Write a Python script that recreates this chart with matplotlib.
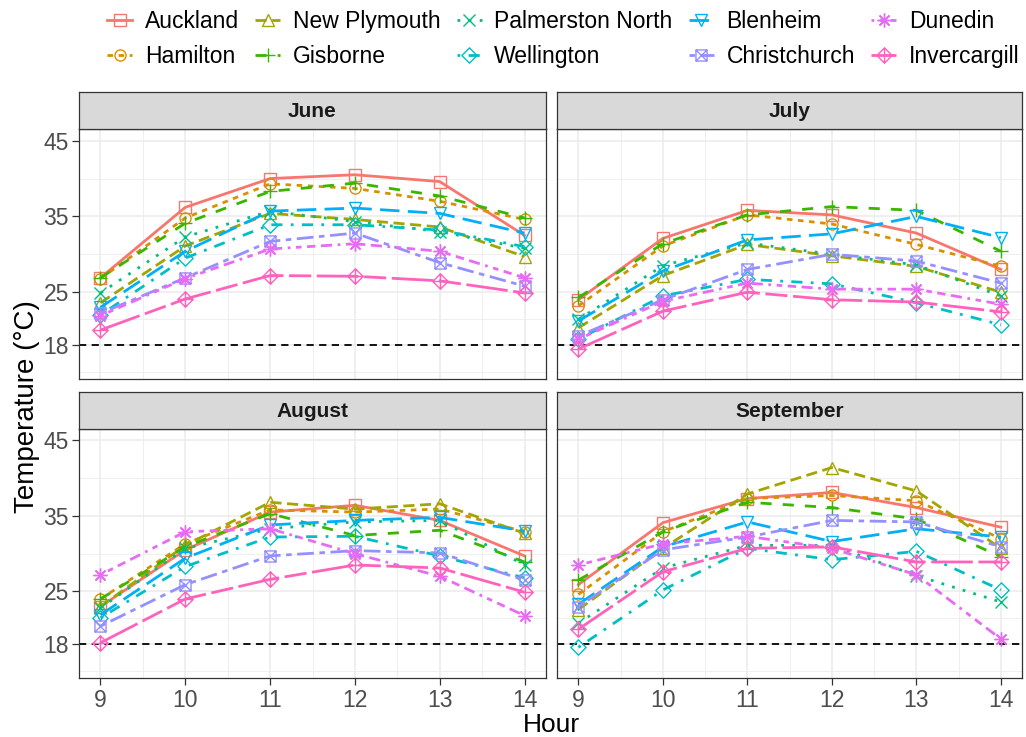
import matplotlib
matplotlib.use("Agg")
import matplotlib.pyplot as plt
from matplotlib.path import Path
from matplotlib.lines import Line2D

plt.rcParams['font.family'] = ['Liberation Sans', 'DejaVu Sans']

hours = [9, 10, 11, 12, 13, 14]
months = ["June", "July", "August", "September"]
cities = ["Auckland", "Hamilton", "New Plymouth", "Gisborne", "Palmerston North",
          "Wellington", "Blenheim", "Christchurch", "Dunedin", "Invercargill"]

# rows follow the order of `cities`, columns follow `hours`
june = [
    [26.9, 36.2, 40.0, 40.5, 39.6, 32.5],
    [26.8, 34.8, 39.3, 38.7, 37.0, 34.6],
    [23.6, 31.1, 35.4, 34.6, 33.6, 29.7],
    [26.9, 34.1, 38.3, 39.4, 37.7, 34.8],
    [24.9, 32.3, 35.7, 34.3, 33.0, 30.8],
    [22.0, 29.5, 33.9, 33.9, 33.2, 31.0],
    [23.0, 30.4, 35.7, 36.1, 35.4, 32.8],
    [22.2, 26.9, 31.7, 32.8, 28.9, 25.8],
    [21.9, 26.8, 30.7, 31.4, 30.4, 26.9],
    [20.0, 24.1, 27.2, 27.1, 26.5, 24.9],
]
july = [
    [24.0, 32.1, 35.8, 35.2, 32.8, 28.0],
    [23.2, 31.1, 35.2, 34.0, 31.3, 28.4],
    [20.3, 27.2, 31.3, 29.8, 28.4, 25.0],
    [24.3, 31.4, 35.2, 36.3, 35.8, 30.4],
    [21.4, 28.5, 31.5, 30.0, 28.6, 24.5],
    [18.8, 24.5, 26.7, 26.1, 23.6, 20.7],
    [21.2, 27.8, 31.9, 32.7, 35.0, 32.2],
    [19.2, 24.0, 28.0, 30.0, 29.1, 26.2],
    [18.8, 23.8, 26.2, 25.4, 25.4, 23.4],
    [17.5, 22.5, 25.0, 24.0, 23.7, 22.4],
]
august = [
    [23.0, 30.5, 35.5, 36.4, 34.4, 29.7],
    [24.0, 31.3, 35.8, 35.5, 35.9, 32.9],
    [23.0, 31.1, 36.8, 35.9, 36.6, 32.7],
    [24.0, 30.9, 35.3, 32.4, 33.1, 28.9],
    [22.8, 30.7, 33.3, 34.2, 34.4, 28.5],
    [21.5, 28.3, 32.2, 32.3, 29.7, 26.8],
    [21.9, 29.4, 33.8, 34.4, 34.8, 33.0],
    [20.4, 25.9, 29.7, 30.4, 30.1, 26.5],
    [27.2, 32.9, 33.3, 30.0, 27.0, 21.8],
    [18.2, 24.0, 26.6, 28.5, 28.1, 24.9],
]
september = [
    [25.9, 34.1, 37.3, 38.1, 36.1, 33.5],
    [24.6, 32.9, 37.3, 37.7, 37.0, 32.0],
    [22.6, 30.7, 37.9, 41.4, 38.3, 30.7],
    [26.5, 32.9, 36.8, 36.1, 34.6, 29.6],
    [20.8, 28.1, 31.1, 31.1, 27.1, 23.6],
    [17.6, 25.2, 30.7, 29.2, 30.3, 25.2],
    [23.3, 30.9, 34.2, 31.6, 33.3, 32.2],
    [23.0, 30.5, 32.2, 34.4, 34.2, 30.9],
    [28.5, 31.3, 32.3, 30.7, 27.2, 18.7],
    [20.0, 27.6, 30.7, 30.9, 28.9, 28.9],
]
month_data = [june, july, august, september]
threshold = 18
y_breaks = [18, 25, 35, 45]

colors = ["#F8766D", "#D89000", "#A3A500", "#39B600", "#00BF7D",
          "#00BFC4", "#00B0F6", "#9590FF", "#E76BF3", "#FF62BC"]
dashes = [None, (2, 2), (4, 2), (4, 4), (1, 3), (1, 3, 4, 3), (7, 3),
          (2, 2, 6, 2), (1, 2, 2, 2, 3, 2, 4, 2), (15, 2, 8, 2)]

M, L, C = Path.MOVETO, Path.LINETO, Path.CLOSEPOLY
sq_x = Path([(-1, -1), (1, -1), (1, 1), (-1, 1), (-1, -1), (-1, -1), (1, 1), (-1, 1), (1, -1)],
            [M, L, L, L, C, M, L, M, L])
dia = Path([(0, -1), (1, 0), (0, 1), (-1, 0), (0, -1)], [M, L, L, L, C])
dia_plus = Path([(0, -1), (1, 0), (0, 1), (-1, 0), (0, -1), (0, -1), (0, 1), (-1, 0), (1, 0)],
                [M, L, L, L, C, M, L, M, L])
markers = ['s', 'o', '^', '+', 'x', dia, 'v', sq_x, (8, 2, 0), dia_plus]
msizes = [8, 8, 9, 10, 8, 11, 9, 8, 10, 11]
LW = 2.0

W, H = 1026, 737
fig = plt.figure(figsize=(W / 100, H / 100), dpi=100)

def fx(px):
    return px / W

def fy(py):
    return 1 - py / H

cols = [(79.3, 545.7), (557.3, 1022.0)]
rows = [(129.3, 379.3), (429.0, 678.3)]
strip_h = 37.5

border = "#333333"
for i, month in enumerate(months):
    r, c = divmod(i, 2)
    x0, x1 = cols[c]
    y0, y1 = rows[r]
    ax = fig.add_axes([fx(x0), fy(y1), fx(x1 - x0), (y1 - y0) / H])
    ax.set_xlim(8.75, 14.25)
    ax.set_ylim(13.5, 46.5)
    ax.set_xticks(hours)
    ax.set_xticks([9.5, 10.5, 11.5, 12.5, 13.5], minor=True)
    ax.set_yticks(y_breaks)
    ax.set_yticks([14.5, 21.5, 30, 40], minor=True)
    ax.grid(True, which='major', color="#EBEBEB", lw=1.1)
    ax.grid(True, which='minor', color="#EBEBEB", lw=0.55)
    ax.set_axisbelow(True)
    for s in ax.spines.values():
        s.set_color(border)
        s.set_linewidth(0.9)
    ax.tick_params(which='minor', length=0)
    ax.tick_params(which='major', length=5, width=0.9, color=border,
                   labelsize=16.5, labelcolor="#4D4D4D", pad=2.5)
    if r == 0:
        ax.tick_params(axis='x', which='major', length=0, labelbottom=False)
    if c == 1:
        ax.tick_params(axis='y', which='major', length=0, labelleft=False)
    ax.axhline(threshold, color='black', lw=1.3, dashes=(4, 3), zorder=1)
    data = month_data[i]
    for k in range(len(cities)):
        ln, = ax.plot(hours, data[k], color=colors[k], lw=LW, marker=markers[k],
                      ms=msizes[k], mfc='none', mew=1.0, zorder=3)
        if dashes[k] is not None:
            ln.set_dashes(dashes[k])
    sax = fig.add_axes([fx(x0), fy(y0), fx(x1 - x0), strip_h / H])
    sax.set_facecolor("#D9D9D9")
    sax.set_xticks([])
    sax.set_yticks([])
    for s in sax.spines.values():
        s.set_color(border)
        s.set_linewidth(0.9)
    sax.text(0.5, 0.47, month, ha='center', va='center', fontsize=15,
             fontweight='bold', color="#1A1A1A", transform=sax.transAxes)

handles = []
for k in range(len(cities)):
    h = Line2D([], [], color=colors[k], lw=LW, marker=markers[k], ms=msizes[k],
               mfc='none', mew=1.0)
    if dashes[k] is not None:
        h.set_dashes(dashes[k])
    handles.append(h)
fig.legend(handles, cities, ncol=5, loc='upper center', bbox_to_anchor=(0.549, 1.014),
           frameon=False, fontsize=16.5, handlelength=1.1, handletextpad=0.55,
           columnspacing=0.7, labelspacing=0.5)

fig.text(fx(551), fy(725), "Hour", ha='center', va='center', fontsize=19)
fig.text(fx(27), fy(407), "Temperature (°C)", ha='center', va='center',
         rotation=90, fontsize=20)

fig.savefig("out.png", dpi=100)
